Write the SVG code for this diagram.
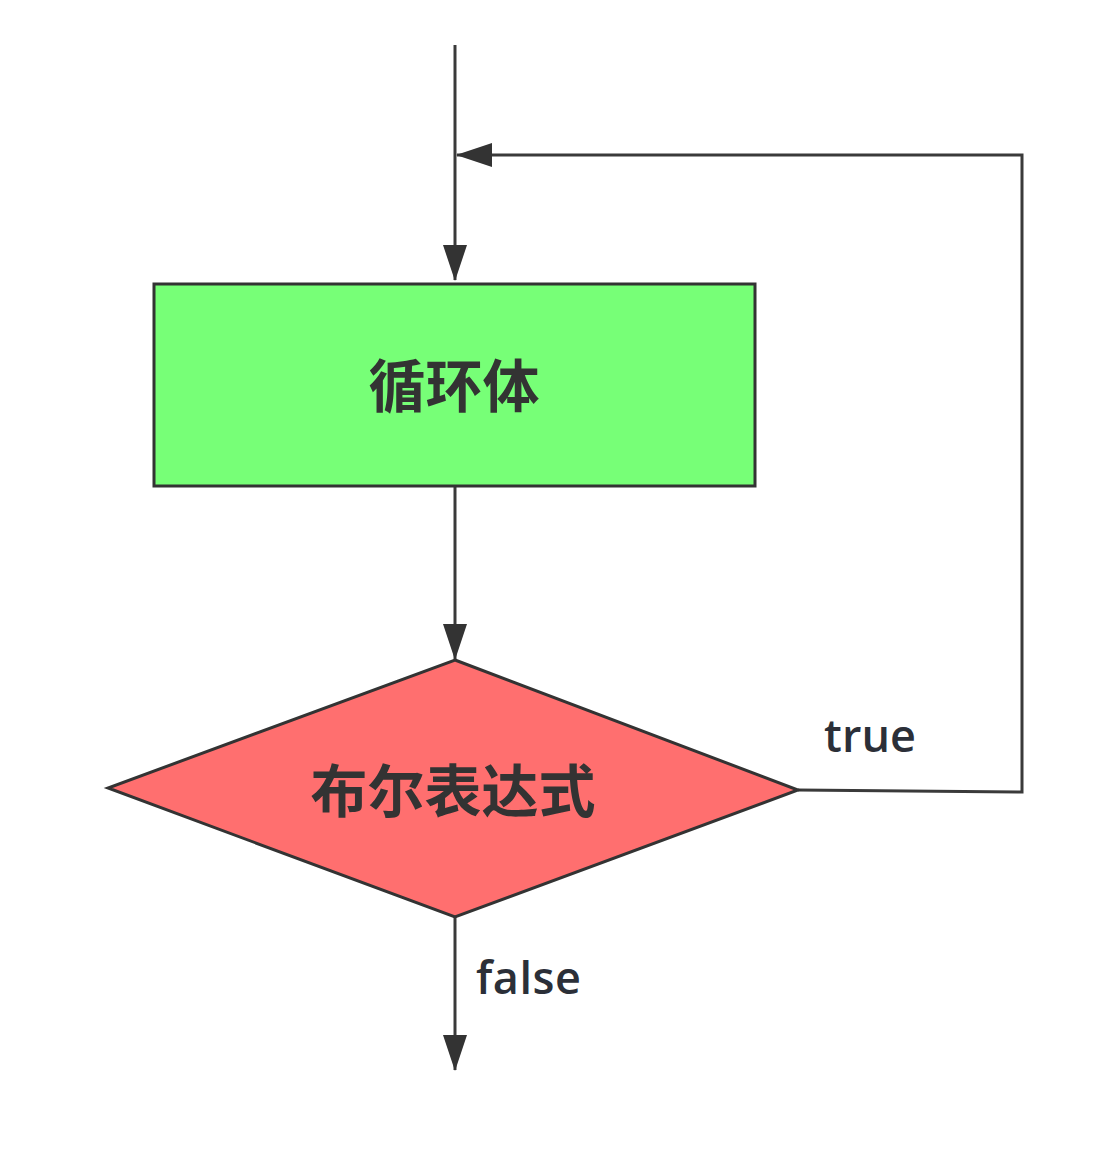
<svg xmlns="http://www.w3.org/2000/svg" width="1120" height="1152" viewBox="0 0 1120 1152">
<defs>
<marker id="arr" markerWidth="36" markerHeight="24" refX="35" refY="12" orient="auto" markerUnits="userSpaceOnUse">
<path d="M0,0 L36,12 L0,24 Z" fill="#333333"/>
</marker>
<style>
.edge{fill:none;stroke:#3a3a3a;stroke-width:3}
.node{stroke:#333333;stroke-width:3}
.cjk{font-family:"Noto Sans CJK SC","Noto Sans",sans-serif;font-weight:bold;font-size:57px;fill:#333333}
.lbl{font-family:"Open Sans","Noto Sans",sans-serif;font-weight:600;font-size:45px;fill:#2b2f38}
</style>
</defs>
<rect width="1120" height="1152" fill="#ffffff"/>
<g id="connectors">
<path class="edge" d="M455,45 L455,280" marker-end="url(#arr)"/>
<path class="edge" d="M798,790 L1022,792 L1022,155 L457,155" marker-end="url(#arr)"/>
<path class="edge" d="M455,486 L455,659" marker-end="url(#arr)"/>
<path class="edge" d="M455,917 L455,1070" marker-end="url(#arr)"/>
<text class="lbl" x="824" y="752" textLength="92">true</text>
<text class="lbl" x="476" y="994" textLength="105">false</text>
</g>
<g id="loop-body">
<rect class="node" x="154" y="284" width="601" height="202" fill="#77ff77"/>
<text class="cjk" x="454" y="407" text-anchor="middle">循环体</text>
</g>
<g id="condition">
<polygon class="node" points="455,660 798,790 455,917 108,788" fill="#ff6f6f"/>
<text class="cjk" x="453" y="812" text-anchor="middle">布尔表达式</text>
</g>
</svg>
